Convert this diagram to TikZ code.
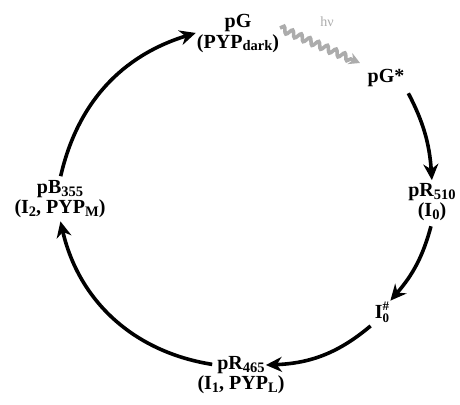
\documentclass[tikz,border=0pt]{standalone}
\usepackage{fontspec}
\setmainfont{Liberation Serif}
\usetikzlibrary{arrows.meta, positioning, decorations.pathmorphing}
\definecolor{lightgr}{RGB}{172,172,172}
\newcommand{\sbs}[1]{\raisebox{-0.32ex}{\fontsize{14.5}{14.5}\selectfont #1}}
\newcommand{\subsup}[2]{\raisebox{-0.4ex}{\fontsize{13}{11}\selectfont\shortstack[l]{#2\\#1}}}

\begin{document}
\begin{tikzpicture}[
  x=1pt, y=-1pt,
  st/.style={font=\fontsize{20}{22}\selectfont\bfseries, inner sep=1pt},
  ar/.style={-{Stealth[length=16pt,width=15pt]}, line width=3.6pt},
  wv/.style={-{Stealth[length=11pt,width=12pt]}, line width=3.6pt,
    draw=lightgr, decorate, decoration={snake, amplitude=3.2pt,
    segment length=9.5pt, post length=10pt}}
]
  \useasboundingbox (0,0) rectangle (460,404);
  \node[st] (pG)   at (238,23)  {pG};
  \node[st, below=0pt of pG]  (pGb)  {(PYP\sbs{dark})};
  \node[st] (pGs)  at (386,78)  {pG*};
  \node[st] (pR5)  at (432,192) {pR\sbs{510}};
  \node[st, below=0pt of pR5] (pR5b) {(I\sbs{0})};
  \node[st] (I0h)  at (382,312) {I\subsup{0}{\#}};
  \node[st] (pR4)  at (241,365) {pR\sbs{465}};
  \node[st, below=0pt of pR4] (pR4b) {(I\sbs{1}, PYP\sbs{L})};
  \node[st] (pB)   at (60,189)  {pB\sbs{355}};
  \node[st, below=0pt of pB]  (pBb)  {(I\sbs{2}, PYP\sbs{M})};
  \node[font=\fontsize{14}{14}\selectfont, text=lightgr] (hv) at (327,22) {hν};
  \coordinate (hvs) at (280,28);
  \coordinate (hve) at (360,63);
  % Arrows
  \draw[wv] (hvs) -- (hve);
  \draw[ar, shorten <=3pt] (pB.north) to[bend left=30] (pGb.north west);
  \draw[ar, shorten <=6pt, shorten >=2pt] (pGs.south east) to[bend left=12] (pR5.north);
  \draw[ar, shorten <=4pt] (pR5b.south) to[bend left=13] (I0h.north east);
  \draw[ar, shorten <=4pt] (I0h.south west) to[bend left=19] (pR4.east);
  \draw[ar, shorten <=4pt, shorten >=2pt] (pR4.west) to[bend left=34] (pBb.south);
\end{tikzpicture}
\end{document}
